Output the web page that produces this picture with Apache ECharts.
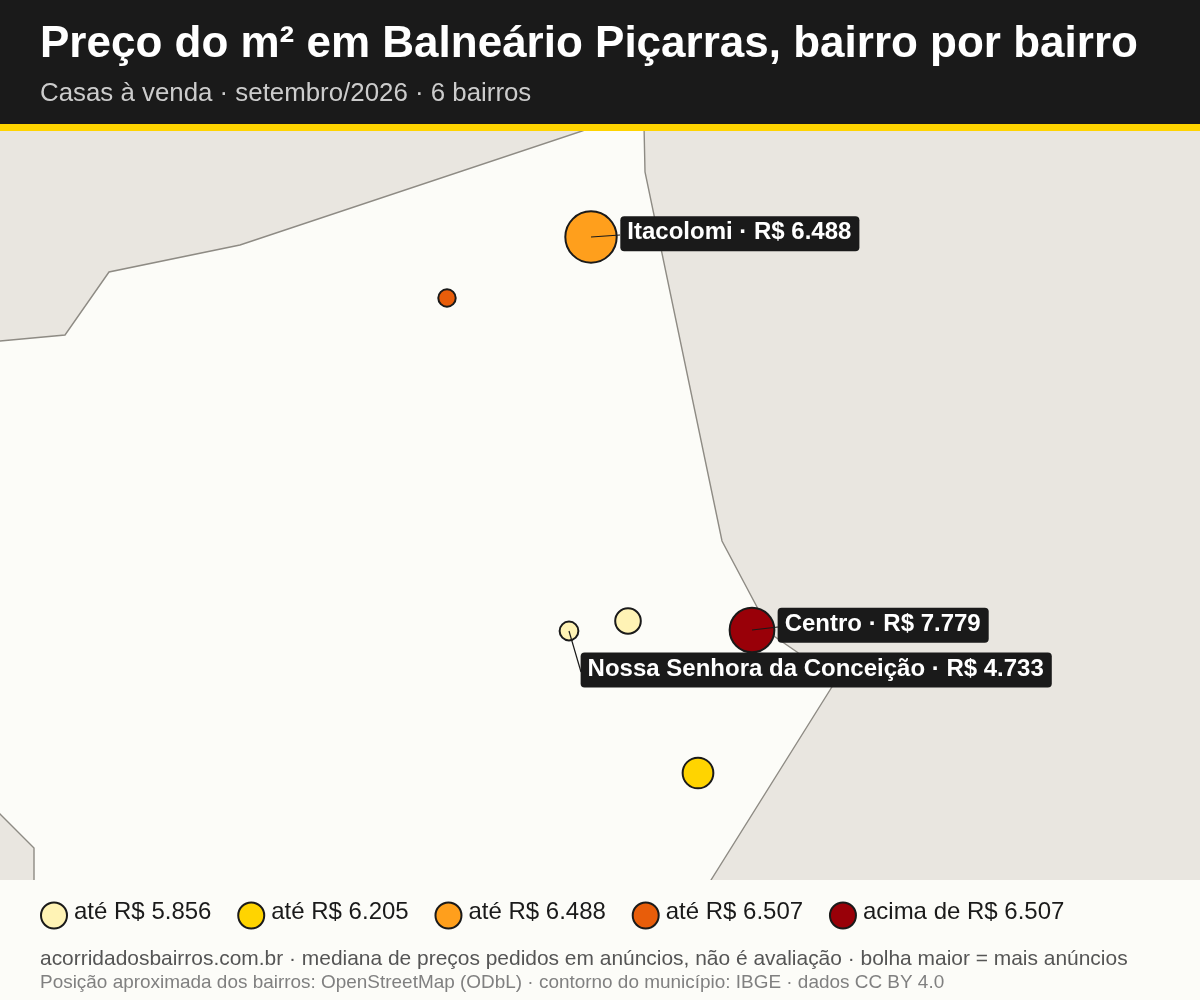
<!DOCTYPE html>
<html lang="pt-BR"><head><meta charset="utf-8"><title>Preço do m²</title>
<style>html,body{margin:0;padding:0;background:#fcfcf8}#c{width:1200px;height:1000px}</style>
<script src="https://cdn.jsdelivr.net/npm/echarts@6/dist/echarts.min.js"></script>
</head><body><div id="c"></div>
<script>
// map units: east / south position of each neighbourhood on the projected map
const bairros = ["Itacolomi", "Centro", "Nossa Senhora da Conceição", "Bairro A", "Bairro B", "Bairro C"];
const leste   = [591, 752, 569, 628, 698, 447];
const sul     = [237, 630, 631, 621, 773, 298];
const precos  = [6488, 7779, 4733, 5600, 6100, 6507];
const anuncios = [165, 125, 22, 41, 59, 19];
const rotulados = ["Itacolomi", "Centro", "Nossa Senhora da Conceição"];
const limites = [5856, 6205, 6488, 6507];
const coresClasse = ["#FFF3B5", "#FFD400", "#FF9F1C", "#E85D0A", "#990008"];
const nomesClasse = ["até R$ 5.856", "até R$ 6.205", "até R$ 6.488", "até R$ 6.507", "acima de R$ 6.507"];
const contorno = [[600,125],[582,131],[240,245],[109,272],[65,335],[-10,342],[-10,804],[34,848],[34,890],[705,890],[711,880],[835,682],[797,652],[768,632],[757,607],[722,541],[645,172],[644,125]];
const guias = [[[591,237],[620,235]],[[752,630],[778,627]],[[569,631],[581,672]]];
const deslocamentos = {"Itacolomi":[56,6],"Centro":[49,1],"Nossa Senhora da Conceição":[22,32]};

const fmt = v => "R$ " + String(v).replace(/(\d)(\d{3})$/, "$1.$2");
const classe = v => { const i = limites.findIndex(l => v <= l); return i < 0 ? limites.length : i; };

const serieContorno = {
  type: "custom", coordinateSystem: "cartesian2d", silent: true, z: 1,
  data: contorno,
  encode: {x: 0, y: 1},
  renderItem(params, api) {
    if (params.dataIndex !== 0) return null;
    const s = params.coordSys;
    return {
      type: "polygon",
      shape: {points: contorno.map(p => api.coord(p))},
      style: {fill: "#FCFCF8", stroke: "#8E8B84", lineWidth: 1.4},
      clipPath: {type: "rect", shape: {x: s.x, y: s.y, width: s.width, height: s.height}}
    };
  }
};

const seriesClasses = nomesClasse.map((nome, c) => ({
  name: nome, type: "scatter", z: 2, coordinateSystem: "cartesian2d",
  itemStyle: {color: coresClasse[c], borderColor: "#1a1a1a", borderWidth: 2, opacity: 1},
  emphasis: {disabled: true},
  data: bairros.map((b, i) => ({b, i})).filter(o => classe(precos[o.i]) === c).map(o => {
    const d = {name: o.b, value: [leste[o.i], sul[o.i]], symbolSize: 4 * Math.sqrt(anuncios[o.i])};
    if (rotulados.includes(o.b)) d.label = {
      show: true, position: deslocamentos[o.b],
      formatter: o.b + " · " + fmt(precos[o.i]),
      color: "#fff", fontFamily: "Liberation Sans", fontWeight: "bold", fontSize: 24,
      backgroundColor: "#1a1a1a", borderRadius: 4, padding: [5, 8, 7, 7], lineHeight: 23
    };
    return d;
  })
}));

const seriesGuias = guias.map(g => ({
  type: "line", data: g, z: 3, silent: true, symbol: "none", legendHoverLink: false,
  lineStyle: {color: "#1a1a1a", width: 1.2}
}));

const chart = echarts.init(document.getElementById("c"), null, {renderer: "canvas"});
chart.setOption({
  animation: false,
  backgroundColor: "#FCFCF8",
  grid: {left: 0, right: 0, top: 131, bottom: 120, show: true, backgroundColor: "#E9E6E0", borderWidth: 0},
  xAxis: {type: "value", min: 0, max: 1200, show: false},
  yAxis: {type: "value", min: 131, max: 880, inverse: true, show: false},
  title: [
    {text: "Preço do m² em Balneário Piçarras, bairro por bairro", left: 40, top: 23, padding: 0, z: 10,
     textStyle: {color: "#fff", fontFamily: "Liberation Sans", fontWeight: "bold", fontSize: 44}},
    {text: "Casas à venda · setembro/2026 · 6 bairros", left: 40, top: 81, padding: 0, z: 10,
     textStyle: {color: "#CCCCCC", fontFamily: "Liberation Sans", fontWeight: "normal", fontSize: 25.85}},
    {text: "acorridadosbairros.com.br · mediana de preços pedidos em anúncios, não é avaliação · bolha maior = mais anúncios", left: 40, top: 949, padding: 0, z: 10,
     textStyle: {color: "#555555", fontFamily: "Liberation Sans", fontWeight: "normal", fontSize: 20.94}},
    {text: "Posição aproximada dos bairros: OpenStreetMap (ODbL) · contorno do município: IBGE · dados CC BY 4.0", left: 40, top: 973, padding: 0, z: 10,
     textStyle: {color: "#808080", fontFamily: "Liberation Sans", fontWeight: "normal", fontSize: 18.94}}
  ],
  legend: {
    left: 40, top: 900, padding: 0, itemWidth: 26, itemHeight: 26, itemGap: 25.8, icon: "circle",
    selectedMode: false, data: nomesClasse,
    formatter: n => "{t|" + n + "}",
    textStyle: {rich: {t: {color: "#1a1a1a", fontFamily: "Liberation Sans", fontSize: 24, padding: [0, 0, 7, 2]}}}
  },
  graphic: [
    {type: "rect", z: -1, silent: true, shape: {x: 0, y: 0, width: 1200, height: 124}, style: {fill: "#1A1A1A"}},
    {type: "rect", z: -1, silent: true, shape: {x: 0, y: 124, width: 1200, height: 7}, style: {fill: "#FFD400"}}
  ],
  series: [serieContorno, ...seriesClasses, ...seriesGuias]
});
</script></body></html>
